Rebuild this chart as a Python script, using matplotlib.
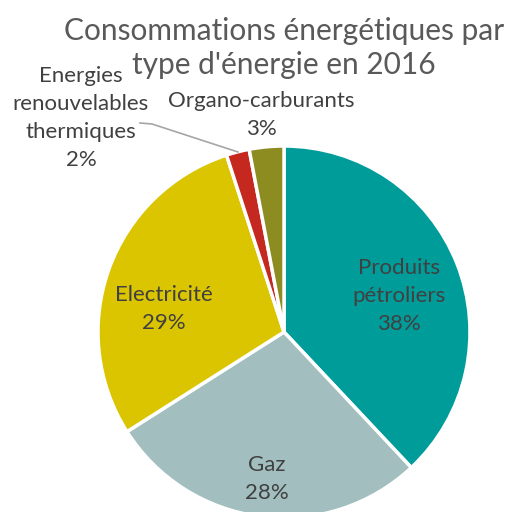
import matplotlib
matplotlib.use("Agg")
import matplotlib.pyplot as plt

# data
categories = ["Produits\npétroliers", "Gaz", "Electricité",
              "Energies\nrenouvelables\nthermiques", "Organo-carburants"]
values = [38, 28, 29, 2, 3]
pct_labels = ["38%", "28%", "29%", "2%", "3%"]
colors = ["#009c9a", "#a2bebf", "#dbc500", "#c4281f", "#8c8c21"]

plt.rcParams['font.family'] = ['Lato', 'DejaVu Sans']

W, H = 508, 512
fig = plt.figure(figsize=(W / 100, H / 100), dpi=100)
ax = fig.add_axes([0, 0, 1, 1])

wedges, _ = ax.pie(values, colors=colors, startangle=90, counterclock=False,
                   center=(284, H - 332), radius=186,
                   wedgeprops=dict(edgecolor='white', linewidth=2.5))
ax.set_xlim(0, W)
ax.set_ylim(0, H)
ax.set_aspect('equal')
ax.axis('off')

txt = "#404040"
fs = 16

def label(x, y, s):
    # x, y in pixels from top-left
    ax.text(x, H - y, s, ha='center', va='center', fontsize=fs, color=txt,
            linespacing=1.5)

label(399, 296, categories[0] + "\n" + pct_labels[0])
label(267, 479, categories[1] + "\n" + pct_labels[1])
label(164, 309, categories[2] + "\n" + pct_labels[2])
label(81, 118, categories[3] + "\n" + pct_labels[3])
label(261, 115, categories[4] + "\n" + pct_labels[4])
ax.plot([140, 152, 238], [H - 123, H - 124, H - 152], color="#a6a6a6", linewidth=1.2)

ax.text(284, H - 48, "Consommations énergétiques par\ntype d'énergie en 2016",
        ha='center', va='center', fontsize=21.5, color="#595959", linespacing=1.3)

fig.savefig("out.png", dpi=100)
